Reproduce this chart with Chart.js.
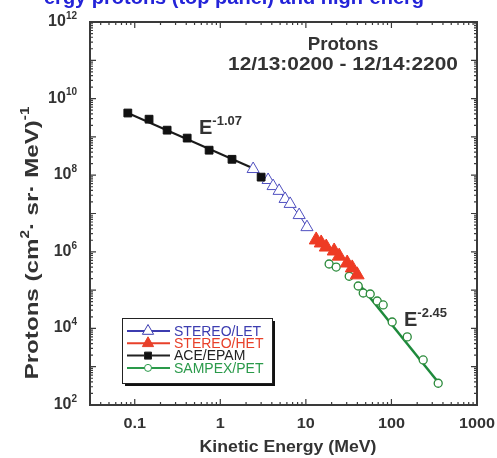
<!DOCTYPE html>
<html>
<head>
<meta charset="utf-8">
<script src="https://cdn.jsdelivr.net/npm/chart.js@4"></script>
<style>
  body { margin: 0; background: #fff; }
  canvas { display: block; }
</style>
</head>
<body>
<canvas id="spectrum" width="497" height="458"></canvas>
<script>
// Proton spectrum values (energy in MeV, flux per cm2 sr MeV)
const aceE = [0.083, 0.147, 0.239, 0.41, 0.74, 1.37, 3.0];
const aceF = [4.2e9, 2.9e9, 1.5e9, 9.3e8, 4.5e8, 2.6e8, 8.9e7];

const letE = [2.42, 3.62, 4.14, 4.87, 5.72, 6.55, 8.35, 10.3];
const letF = [1.45e8, 7.5e7, 5.2e7, 3.9e7, 2.4e7, 1.78e7, 9.1e6, 4.4e6];

const hetE = [13.2, 15.1, 17.3, 21.4, 24.5, 30.4, 34.8, 39.8];
const hetF = [2.04e6, 1.7e6, 1.33e6, 1.05e6, 7.7e5, 5.1e5, 3.8e5, 2.5e5];

const petE = [18.7, 22.6, 32.1, 40.9, 46.8, 56.5, 68.2, 80.1, 102, 153, 235, 352];
const petF = [4.8e5, 4.0e5, 2.3e5, 1.28e5, 8.4e4, 7.9e4, 5.2e4, 4.1e4, 1.47e4, 6.0e3, 1.5e3, 3.7e2];

// power law fit lines (end points)
const aceFitE = [0.083, 2.23];
const aceFitF = [4.2e9, 1.64e8];
const petFitE = [40.9, 382];
const petFitF = [1.53e5, 3.13e2];

// axis labels
const xTicks = [0.1, 1, 10, 100, 1000];
const yTickExps = [2, 4, 6, 8, 10, 12];

const legendItems = [
  { label: 'STEREO/LET', color: '#3c3cb0', line: '#3c3cb0', marker: 'tri', fill: '#fff' },
  { label: 'STEREO/HET', color: '#e8402a', line: '#e8402a', marker: 'tri', fill: '#e8402a' },
  { label: 'ACE/EPAM', color: '#222', line: '#222', marker: 'sq', fill: '#111' },
  { label: 'SAMPEX/PET', color: '#2a9a4a', line: '#2a9a4a', marker: 'circ', fill: '#fff' }
];

const pts = (xs, ys) => xs.map((v, i) => ({ x: v, y: ys[i] }));

const FONT = '"Liberation Sans", Arial, sans-serif';

// draw text with a superscript part, returns width
function supText(ctx, base, sup, x, y, size, supSize, align) {
  ctx.font = `bold ${size}px ${FONT}`;
  const w1 = ctx.measureText(base).width;
  ctx.font = `bold ${supSize}px ${FONT}`;
  const w2 = ctx.measureText(sup).width;
  let x0 = x;
  if (align === 'right') x0 = x - w1 - w2;
  if (align === 'center') x0 = x - (w1 + w2) / 2;
  ctx.textAlign = 'left';
  ctx.font = `bold ${size}px ${FONT}`;
  ctx.fillText(base, x0, y);
  ctx.font = `bold ${supSize}px ${FONT}`;
  ctx.fillText(sup, x0 + w1, y - size * 0.45);
  return w1 + w2;
}

// centered text stretched horizontally
function wideText(ctx, text, x, y, sx) {
  ctx.save();
  ctx.translate(x, y);
  ctx.scale(sx, 1);
  ctx.textAlign = 'center';
  ctx.fillText(text, 0, 0);
  ctx.restore();
}

function marker(ctx, kind, x, y, fill, stroke) {
  ctx.fillStyle = fill;
  ctx.strokeStyle = stroke;
  ctx.lineWidth = 1;
  ctx.beginPath();
  if (kind === 'tri') {
    ctx.moveTo(x, y - 6.5);
    ctx.lineTo(x + 5.6, y + 3.3);
    ctx.lineTo(x - 5.6, y + 3.3);
    ctx.closePath();
  } else if (kind === 'sq') {
    ctx.rect(x - 3.5, y - 3.5, 7, 7);
  } else {
    ctx.arc(x, y, 3.5, 0, Math.PI * 2);
  }
  ctx.fill();
  ctx.stroke();
}

const decor = {
  id: 'decor',
  beforeDraw(chart) {
    const ctx = chart.ctx;
    ctx.save();
    ctx.fillStyle = '#fff';
    ctx.fillRect(0, 0, chart.width, chart.height);
    ctx.restore();
  },
  afterDraw(chart) {
    const { ctx, chartArea: a, scales: { x, y } } = chart;
    ctx.save();

    // cut-off caption above the figure
    ctx.fillStyle = '#2323d8';
    ctx.font = `bold 20px ${FONT}`;
    ctx.textBaseline = 'alphabetic';
    ctx.fillText('ergy protons (top panel) and high-energ', 44, 4);

    // frame
    ctx.strokeStyle = '#3a3a3a';
    ctx.lineWidth = 2;
    ctx.strokeRect(a.left, a.top, a.right - a.left, a.bottom - a.top);

    // inward log ticks on all four sides
    ctx.lineWidth = 1.2;
    ctx.beginPath();
    for (let d = -2; d <= 3; d++) {
      for (let m = 1; m <= 9; m++) {
        const v = m * Math.pow(10, d);
        if (v < x.min || v > x.max) continue;
        const px = x.getPixelForValue(v);
        const len = m === 1 ? 6 : 3;
        ctx.moveTo(px, a.bottom); ctx.lineTo(px, a.bottom - len);
        ctx.moveTo(px, a.top); ctx.lineTo(px, a.top + len);
      }
    }
    for (let d = 2; d <= 12; d++) {
      for (let m = 1; m <= 9; m++) {
        const v = m * Math.pow(10, d);
        if (v < y.min || v > y.max) continue;
        const py = y.getPixelForValue(v);
        const len = m === 1 ? 6 : 3;
        ctx.moveTo(a.left, py); ctx.lineTo(a.left + len, py);
        ctx.moveTo(a.right, py); ctx.lineTo(a.right - len, py);
      }
    }
    ctx.stroke();

    ctx.fillStyle = '#333';
    ctx.textBaseline = 'middle';
    // x tick labels
    ctx.font = `bold 15px ${FONT}`;
    ctx.textAlign = 'center';
    xTicks.forEach(v => wideText(ctx, String(v), x.getPixelForValue(v), 424, 1.08));

    // y tick labels 10^n
    ctx.textBaseline = 'alphabetic';
    yTickExps.forEach(e => {
      const py = y.getPixelForValue(Math.pow(10, e));
      supText(ctx, '10', String(e), 77, py + 4, 16, 10, 'right');
    });

    // axis titles
    ctx.font = `bold 17px ${FONT}`;
    ctx.textBaseline = 'middle';
    wideText(ctx, 'Kinetic Energy (MeV)', 288, 447, 1.04);

    ctx.save();
    ctx.translate(38, 243);
    ctx.rotate(-Math.PI / 2);
    ctx.scale(1.27, 1);
    ctx.textBaseline = 'alphabetic';
    const parts = [['Protons (cm', 19], ['2', 12, true], ['\u00b7 sr\u00b7 MeV)', 19], ['-1', 12, true]];
    let total = 0;
    parts.forEach(p => { ctx.font = `bold ${p[1]}px ${FONT}`; total += ctx.measureText(p[0]).width; });
    let cx = -total / 2;
    ctx.textAlign = 'left';
    parts.forEach(p => {
      ctx.font = `bold ${p[1]}px ${FONT}`;
      ctx.fillText(p[0], cx, p[2] ? -9 : 0);
      cx += ctx.measureText(p[0]).width;
    });
    ctx.restore();

    // header
    ctx.font = `bold 18px ${FONT}`;
    ctx.textBaseline = 'middle';
    wideText(ctx, 'Protons', 343, 45, 1.04);
    wideText(ctx, '12/13:0200 - 12/14:2200', 343, 65, 1.16);

    // power law labels
    ctx.textBaseline = 'alphabetic';
    supText(ctx, 'E', '-1.07', 199, 134, 20, 13, 'left');
    supText(ctx, 'E', '-2.45', 404, 326, 20, 13, 'left');

    // legend box
    const bx = 122, by = 318, bw = 150, bh = 65;
    ctx.fillStyle = '#111';
    ctx.fillRect(bx + 3, by + 3, bw, bh);
    ctx.fillStyle = '#fff';
    ctx.fillRect(bx, by, bw, bh);
    ctx.strokeStyle = '#222';
    ctx.lineWidth = 1;
    ctx.strokeRect(bx + 0.5, by + 0.5, bw, bh);

    ctx.font = `14px ${FONT}`;
    ctx.textBaseline = 'middle';
    ctx.textAlign = 'left';
    legendItems.forEach((it, i) => {
      const ly = 331 + i * 12.3;
      ctx.strokeStyle = it.line;
      ctx.lineWidth = 2;
      ctx.beginPath();
      ctx.moveTo(127, ly); ctx.lineTo(170, ly);
      ctx.stroke();
      marker(ctx, it.marker, 148, ly, it.fill, it.line);
      ctx.fillStyle = it.color;
      ctx.fillText(it.label, 174, ly + 1);
    });

    ctx.restore();
  }
};

new Chart(document.getElementById('spectrum'), {
  type: 'scatter',
  data: {
    datasets: [
      {
        label: 'ACE/EPAM', data: pts(aceE, aceF),
        pointStyle: 'rect', radius: 5.5, backgroundColor: '#111', borderColor: '#111', borderWidth: 1
      },
      {
        label: 'STEREO/HET', data: pts(hetE, hetF),
        pointStyle: 'triangle', radius: 8, backgroundColor: '#ee3b24', borderColor: '#ee3b24', borderWidth: 1
      },
      {
        label: 'STEREO/LET', data: pts(letE, letF), showLine: true,
        borderColor: '#3c3cb0', borderWidth: 1, pointStyle: 'triangle', radius: 7,
        pointBackgroundColor: '#fff', pointBorderColor: '#5050c0', pointBorderWidth: 1
      },
      {
        label: 'SAMPEX/PET', data: pts(petE, petF),
        pointStyle: 'circle', radius: 4, backgroundColor: '#fff', borderColor: '#2a8a3a', borderWidth: 1.3
      },
      {
        label: 'ACE fit', data: pts(aceFitE, aceFitF), showLine: true,
        borderColor: '#1a1a1a', borderWidth: 2, radius: 0
      },
      {
        label: 'PET fit', data: pts(petFitE, petFitF), showLine: true,
        borderColor: '#1e8a3c', borderWidth: 2.5, radius: 0
      }
    ]
  },
  options: {
    responsive: false,
    animation: false,
    layout: { padding: { left: 90, right: 20, top: 22, bottom: 53 } },
    scales: {
      x: { type: 'logarithmic', min: 0.03, max: 1000, display: false },
      y: { type: 'logarithmic', min: 1e2, max: 1e12, display: false }
    },
    plugins: { legend: { display: false }, tooltip: { enabled: false } }
  },
  plugins: [decor]
});
</script>
</body>
</html>
